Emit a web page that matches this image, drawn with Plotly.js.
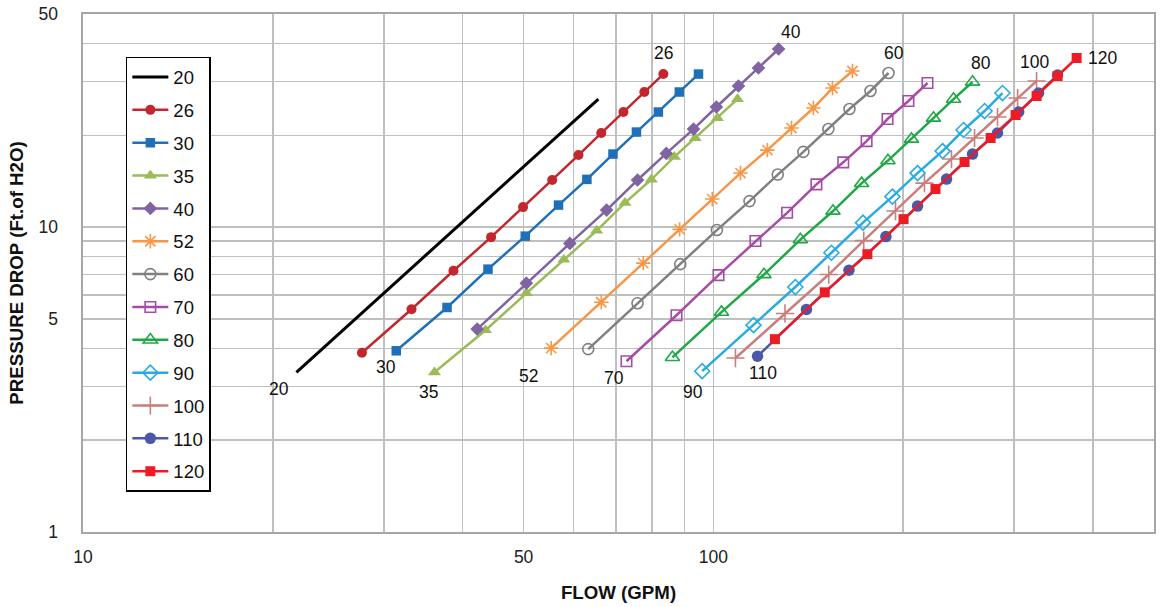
<!DOCTYPE html>
<html>
<head>
<meta charset="utf-8">
<script src="https://cdn.plot.ly/plotly-3.0.1.min.js"></script>
<style>html,body{margin:0;padding:0;background:#fff;}#chart{width:1163px;height:607px;}</style>
</head>
<body>
<div id="chart"></div>
<script>
// ---- data ----
const seriesNames = ["20","26","30","35","40","52","60","70","80","90","100","110","120"];

const flow20 = [21.8, 65.7];
const drop20 = [3.34, 26.3];

const flow26 = [27.7, 33.2, 38.7, 44.4, 49.9, 55.5, 61.1, 66.4, 72.0, 77.7, 83.3];
const drop26 = [3.87, 5.38, 7.19, 9.27, 11.63, 14.27, 17.23, 20.35, 23.85, 27.74, 31.77];

const flow30 = [31.4, 37.8, 43.9, 50.3, 56.8, 63.0, 69.3, 75.5, 81.8, 88.3, 94.7];
const drop30 = [3.93, 5.45, 7.28, 9.34, 11.81, 14.34, 17.36, 20.50, 23.85, 27.74, 31.77];

const flow35 = [36.1, 43.5, 50.5, 57.9, 65.3, 72.4, 79.7, 86.7, 93.6, 101.5, 109.2];
const drop35 = [3.34, 4.59, 6.07, 7.82, 9.74, 12.01, 14.32, 17.00, 19.60, 22.79, 26.3];

const flow40 = [42.2, 50.5, 59.2, 67.7, 75.8, 84.2, 93.0, 101.1, 109.6, 117.9, 126.9];
const drop40 = [4.63, 6.55, 8.84, 11.37, 14.27, 17.45, 20.97, 24.77, 29.02, 33.25, 38.39];

const flow52 = [55.3, 66.4, 77.4, 88.4, 99.6, 110.4, 121.8, 133.0, 144.1, 154.5, 166.2];
const drop52 = [4.01, 5.67, 7.62, 9.83, 12.36, 15.04, 17.89, 21.13, 24.58, 28.58, 32.51];

const flow60 = [63.3, 75.8, 88.6, 101.3, 114.1, 126.5, 138.9, 152.2, 164.4, 177.5, 189.6];
const drop60 = [3.98, 5.63, 7.56, 9.78, 12.17, 14.87, 17.65, 20.97, 24.39, 27.95, 32.02];

const flow70 = [72.8, 87.4, 101.9, 116.6, 130.9, 145.7, 160.7, 175.0, 188.9, 203.9, 218.6];
const drop70 = [3.63, 5.14, 6.96, 9.00, 11.14, 13.81, 16.31, 19.15, 22.62, 25.92, 29.69];

const flow80 = [86.1, 103.0, 120.3, 137.4, 154.8, 171.8, 189.2, 206.2, 223.4, 240.4, 257.7];
const drop80 = [3.74, 5.26, 6.99, 9.10, 11.29, 13.91, 16.53, 19.45, 22.79, 26.3, 29.92];

const flow90 = [96.0, 115.8, 134.9, 153.9, 172.7, 192.3, 210.8, 231.0, 249.4, 269.3, 287.5];
const drop90 = [3.37, 4.77, 6.36, 8.24, 10.34, 12.59, 15.04, 17.76, 20.82, 24.03, 27.53];

const flow100 = [108.4, 129.9, 152.4, 173.2, 194.5, 216.2, 238.6, 259.6, 282.3, 303.8, 325.6];
const drop100 = [3.72, 5.21, 6.99, 9.03, 11.29, 13.94, 16.72, 19.60, 22.96, 26.51, 30.14];

const flow110 = [117.5, 140.5, 164.1, 187.8, 210.8, 234.4, 257.7, 282.3, 305.0, 328.0, 351.6];
const drop110 = [3.77, 5.37, 7.22, 9.31, 11.72, 14.37, 17.36, 20.35, 23.85, 27.53, 31.53];

const flow120 = [125.2, 150.2, 175.5, 200.3, 225.1, 250.3, 275.3, 301.6, 325.6, 351.6, 376.9];
const drop120 = [4.29, 6.11, 8.15, 10.62, 13.33, 16.35, 19.60, 23.31, 26.91, 31.30, 35.86];

const xTickVals = [10, 50, 100, 500];
const xTickText = ["10", "50", "100", "500"];
const xMinorVals = [20, 30, 40, 60, 70, 80, 90, 200, 300, 400];
const yTickVals = [1, 5, 10, 50];
const yTickText = ["1", "5", "10", "50"];
const yMinorVals = [2, 3, 4, 6, 7, 8, 9, 20, 30, 40];

// ---- styling ----
const FONT = "Liberation Sans, Arial, sans-serif";
const flows = [flow20, flow26, flow30, flow35, flow40, flow52, flow60, flow70, flow80, flow90, flow100, flow110, flow120];
const drops = [drop20, drop26, drop30, drop35, drop40, drop52, drop60, drop70, drop80, drop90, drop100, drop110, drop120];
const styles = [
  {color: "#000000", symbol: null, size: 0, width: 3},
  {color: "#C1272D", symbol: "circle", size: 10, width: 2.5},
  {color: "#1F70B8", symbol: "square", size: 9.5, width: 2.5},
  {color: "#9BBB59", symbol: "triangle-up", size: 11.5, width: 2.5},
  {color: "#8064A2", symbol: "diamond", size: 10.5, width: 2.5},
  {color: "#F79646", symbol: "asterisk-open", size: 12, width: 2.5},
  {color: "#808080", symbol: "circle-open", size: 11, width: 2.5},
  {color: "#A64CA6", symbol: "square-open", size: 10.5, width: 2.5},
  {color: "#1FA846", symbol: "triangle-up-open", size: 12.5, width: 2.5},
  {color: "#29ABE2", symbol: "diamond-open", size: 11.5, width: 2.5},
  {color: "#C8807E", symbol: "cross-thin-open", size: 13, width: 2.5},
  {color: "#4B58A8", symbol: "circle", size: 11.5, width: 2.5},
  {color: "#ED1C24", symbol: "square", size: 10, width: 2.5}
];

const traces = seriesNames.map((name, i) => {
  const s = styles[i];
  const t = {
    type: "scatter",
    x: flows[i], y: drops[i],
    name: name, legendgroup: "g" + i,
    mode: s.symbol ? "lines+markers" : "lines",
    line: {color: s.color, width: s.width},
    hoverinfo: "x+y+name"
  };
  if (s.symbol) {
    t.marker = {symbol: s.symbol, size: s.size, color: s.color,
                line: {color: s.color, width: s.symbol.indexOf("open") >= 0 ? 1.6 : 0}};
  }
  return t;
});

// curve labels: anchored at first or last point, pixel offsets
const labelSpec = [
  {i: 0, end: "first", dx: -17, dy: -17},
  {i: 1, end: "last", dx: 0, dy: 21},
  {i: 2, end: "first", dx: -10, dy: -16},
  {i: 3, end: "first", dx: -6, dy: -20},
  {i: 4, end: "last", dx: 12, dy: 17},
  {i: 5, end: "first", dx: -23, dy: -28},
  {i: 6, end: "last", dx: 5, dy: 20},
  {i: 7, end: "first", dx: -12, dy: -17},
  {i: 8, end: "last", dx: 8, dy: 19},
  {i: 9, end: "first", dx: -9, dy: -21},
  {i: 10, end: "last", dx: -2, dy: 19},
  {i: 11, end: "first", dx: 5, dy: -17},
  {i: 12, end: "last", dx: 26, dy: 0}
];
const annotations = labelSpec.map(l => {
  const xs = flows[l.i], ys = drops[l.i];
  const k = l.end === "first" ? 0 : xs.length - 1;
  return {
    x: Math.log10(xs[k]), y: Math.log10(ys[k]), xref: "x", yref: "y",
    text: seriesNames[l.i], showarrow: false,
    xshift: l.dx, yshift: l.dy,
    font: {family: FONT, size: 17.5, color: "#111"}
  };
});

const gridColor = "#BFBFBF";
const layout = {
  width: 1163, height: 607,
  margin: {l: 83, r: 9, t: 14, b: 75, pad: 0},
  paper_bgcolor: "#fff", plot_bgcolor: "#fff",
  font: {family: FONT, size: 17, color: "#222"},
  showlegend: true,
  legend: {
    x: 0.04, y: 0.917, xanchor: "left", yanchor: "top",
    bgcolor: "#fff", bordercolor: "#000", borderwidth: 1.5,
    font: {family: FONT, size: 18.5, color: "#111"},
    traceorder: "grouped", tracegroupgap: 5.8, itemwidth: 36
  },
  xaxis: {
    type: "log", range: [1, Math.log10(500)],
    tickmode: "array", tickvals: xTickVals, ticktext: xTickText,
    showgrid: true, gridcolor: gridColor, gridwidth: 1.6,
    minor: {tickmode: "array", tickvals: xMinorVals, showgrid: true, gridcolor: gridColor, gridwidth: 1.6, ticks: ""},
    showline: true, linecolor: "#A6A6A6", linewidth: 1.6, mirror: true,
    ticks: "", zeroline: false,
    tickfont: {family: FONT, size: 17.5, color: "#222"},
    ticklabelstandoff: 8,
    title: {text: "<b>FLOW (GPM)</b>", font: {family: FONT, size: 18.7, color: "#111"}, standoff: 20}
  },
  yaxis: {
    type: "log", range: [0, Math.log10(50)],
    tickmode: "array", tickvals: yTickVals, ticktext: yTickText,
    showgrid: true, gridcolor: gridColor, gridwidth: 1.6,
    minor: {tickmode: "array", tickvals: yMinorVals, showgrid: true, gridcolor: gridColor, gridwidth: 1.6, ticks: ""},
    showline: true, linecolor: "#A6A6A6", linewidth: 1.6, mirror: true,
    ticks: "", zeroline: false,
    tickfont: {family: FONT, size: 17.5, color: "#222"},
    ticklabelstandoff: 20,
    title: {text: "<b>PRESSURE DROP (Ft.of H2O)</b>", font: {family: FONT, size: 18.7, color: "#111"}, standoff: 10}
  },
  annotations: annotations
};

Plotly.newPlot("chart", traces, layout, {displayModeBar: false, staticPlot: true});
</script>
</body>
</html>
